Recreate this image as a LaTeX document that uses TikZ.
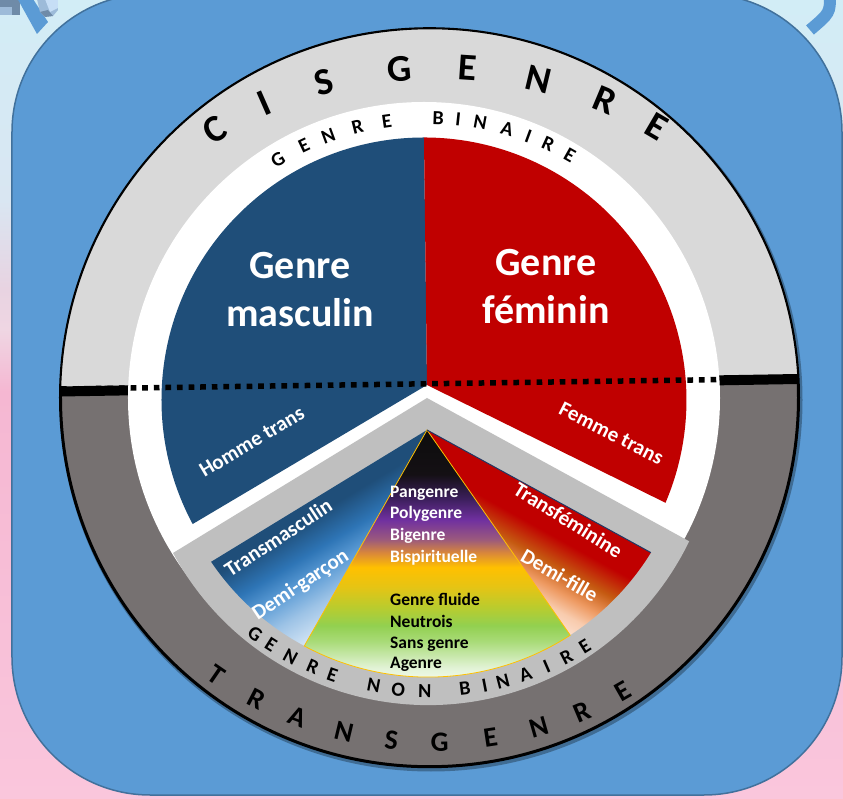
\documentclass[tikz,border=0pt]{standalone}
\usepackage{fontspec}
\setmainfont{Carlito}
\usetikzlibrary{calc}
\definecolor{bgblue}{HTML}{5B9BD5}
\definecolor{bgblueline}{HTML}{41719C}
\definecolor{ringdark}{HTML}{767171}
\definecolor{ringlight}{HTML}{D9D9D9}
\definecolor{nbgray}{HTML}{BFBFBF}
\definecolor{mascblue}{HTML}{1F4E79}
\definecolor{femred}{HTML}{C00000}
\definecolor{trioutline}{HTML}{FFC000}
\definecolor{edgedark}{HTML}{203864}
\definecolor{gemdark}{HTML}{6F8BA8}
\definecolor{gemmid}{HTML}{9DBBD9}
\definecolor{gemlight}{HTML}{C6DEF6}
% background
\definecolor{bgA}{HTML}{FAC6DC}
\definecolor{bgB}{HTML}{F5B7D2}
\definecolor{bgC}{HTML}{EFD6E3}
\definecolor{bgD}{HTML}{E8D3E1}
\definecolor{bgE}{HTML}{D9E6F2}
\definecolor{bgF}{HTML}{D2EDF6}
% rainbow
\definecolor{rbA}{HTML}{FFFFFF}
\definecolor{rbB}{HTML}{E2F3D6}
\definecolor{rbC}{HTML}{A9DB78}
\definecolor{rbD}{HTML}{92D050}
\definecolor{rbE}{HTML}{B9CC2E}
\definecolor{rbF}{HTML}{E6C414}
\definecolor{rbG}{HTML}{FFC000}
\definecolor{rbH}{HTML}{D9873A}
\definecolor{rbI}{HTML}{9C5A7C}
\definecolor{rbJ}{HTML}{7030A0}
\definecolor{rbK}{HTML}{3C1F5C}
\definecolor{rbL}{HTML}{141014}
\definecolor{rbM}{HTML}{0D0D0D}
% transmasculin
\definecolor{tmA}{HTML}{D6E6F6}
\definecolor{tmB}{HTML}{9DC3E6}
\definecolor{tmC}{HTML}{5B9BD5}
\definecolor{tmD}{HTML}{2E75B6}
\definecolor{tmE}{HTML}{1F4E79}
% transfeminine
\definecolor{tfA}{HTML}{FCE4D6}
\definecolor{tfB}{HTML}{F8CBAD}
\definecolor{tfC}{HTML}{EE9A62}
\definecolor{tfD}{HTML}{C55A11}
\definecolor{tfE}{HTML}{C00000}
\pgfdeclareverticalshading{bgshade}{100bp}{color(0bp)=(bgA); color(25bp)=(bgA); color(50.5bp)=(bgB); color(54.4bp)=(bgC); color(56.9bp)=(bgD); color(62.5bp)=(bgE); color(75bp)=(bgF); color(100bp)=(bgF)}
\pgfdeclareverticalshading{rainbowshade}{100bp}{color(0bp)=(rbA); color(25bp)=(rbA); color(29.45bp)=(rbB); color(34.5bp)=(rbC); color(37.55bp)=(rbD); color(41bp)=(rbE); color(45bp)=(rbF); color(48.7bp)=(rbG); color(51.5bp)=(rbH); color(54bp)=(rbI); color(57.8bp)=(rbJ); color(61.85bp)=(rbK); color(66.5bp)=(rbL); color(75bp)=(rbM); color(100bp)=(rbM)}
\pgfdeclareverticalshading{tmascshade}{100bp}{color(0bp)=(tmA); color(30bp)=(tmA); color(37bp)=(tmB); color(43bp)=(tmC); color(48bp)=(tmD); color(55bp)=(tmE); color(100bp)=(tmE)}
\pgfdeclareverticalshading{tfemshade}{100bp}{color(0bp)=(tfA); color(31bp)=(tfA); color(36bp)=(tfB); color(40bp)=(tfC); color(45bp)=(tfD); color(51bp)=(tfE); color(100bp)=(tfE)}
\tikzset{
  ringletter/.style={font=\fontsize{#1}{#1}\selectfont\bfseries, inner sep=0pt, text=black},
  pietext/.style={font=\fontsize{40}{48}\selectfont\bfseries, inner sep=0pt, text=white, anchor=base},
  sublabel/.style={font=\fontsize{21}{25}\selectfont\bfseries, inner sep=0pt, text=white},
  tritext/.style={font=\fontsize{17.5}{21}\selectfont\bfseries, inner sep=0pt, anchor=base west},
}
\begin{document}
\begin{tikzpicture}[x=1pt,y=1pt]
\useasboundingbox (-422,-401) rectangle (421,398);
\clip (-422,-401) rectangle (421,398);
% background
\shade[shading=bgshade] (-422,-401) rectangle (421,398);
% corner decorations
\fill[gemdark] (-423,383) rectangle (-402,399);
\fill[gemmid] (-423,383) rectangle (-410,391);
\fill[bgblue] (-406,402) -- (-391,402) -- (-374,376) -- (-385,364) -- cycle;
\fill[gemmid] (-385,399) -- (-364,399) -- (-364,388) -- (-369,382) -- (-377,381) -- (-382,386) -- cycle;
\fill[gemlight] (-377,399) -- (-364,399) -- (-364,390) -- (-372,386) -- cycle;
\fill[gemdark] (-382,386) -- (-377,381) -- (-369,382) -- (-374,388) -- cycle;
\draw[bgblue, line width=12] (408,403) .. controls (408,385) .. (388,368);
% main rounded panel
\draw[fill=bgblue, draw=bgblueline, line width=1.5, rounded corners=138] (-410,-397) rectangle (420,404);
% outer ring
\fill[black, opacity=0.3] (9,-2) circle[radius=371.5];
\draw[fill=ringdark, draw=black, line width=3] (7.5,0.3) circle[radius=369];
\draw[fill=ringlight, draw=black, line width=1.2] (376,19) arc[start angle=2.905, end angle=179.04, radius=369] -- cycle;
\draw[black, line width=10] (-361.4,6.5) -- (376,19);
% white band
\fill[white] (2,0) circle[radius=296];
% binary pie
\fill[mascblue] (5,13) -- (2,260.5) arc[start angle=90, end angle=208.2, radius=262.5] -- cycle;
\fill[femred] (5,13) -- (243.5,-104.8) arc[start angle=-23.06, end angle=90, radius=262.5] -- cycle;
% non binary sector
\fill[nbgray] (5,0) -- (-249,-155) arc[start angle=208.4, end angle=334.2, radius=290] -- cycle;
\shade[shading=tmascshade, shading angle=31] (5,-32) -- (-210.9,-163.8) arc[start angle=214.1, end angle=241.8, radius=262] -- cycle;
\shade[shading=tfemshade, shading angle=-29] (5,-32) -- (148.1,-237.1) arc[start angle=302.85, end angle=328.3, radius=262] -- cycle;
\shade[shading=rainbowshade] (5,-32) -- (-117.7,-248) arc[start angle=241.8, end angle=302.85, radius=262] -- cycle;
\draw[trioutline, line width=0.8] (5,-32) -- (-117.7,-248) arc[start angle=241.8, end angle=302.85, radius=262] -- cycle;
\draw[edgedark, line width=1] (5,-32) -- (228.9,-154.6);
% dotted divider
\draw[black, line width=5.5, dash pattern=on 5.7pt off 5.9pt] (-361,9) -- (376,19.5);
% ring letters
\foreach \l/\a [count=\i] in {C/121.2, I/113.7, S/105.3, G/95.1, E/86.1, N/76.5, R/67.3, E/59.6}
  \node[ringletter=38, rotate=\a-90] (cis\i) at ($(16,-101)+(\a:432)$) {\l};
\foreach \l/\a [count=\i] in {G/121.3, E/115.4, N/110.2, R/104.1, E/98.2, B/88, I/84, N/79.6, A/74.1, I/69.7, R/65.4, E/60.6}
  \node[ringletter=20, rotate=\a-90] (bin\i) at ($(6,-9)+(\a:289)$) {\l};
\foreach \l/\a [count=\i] in {T/235.6, R/242.65, A/249.4, N/256.6, S/263.8, G/271, E/278.6, N/285.97, R/292.9, E/299.7}
  \node[ringletter=28, rotate=\a+90] (trans\i) at ($(11,40)+(\a:384)$) {\l};
\foreach \l/\a [count=\i] in {G/233.9, E/237.6, N/242, R/246.8, E/250.9, N/259.2, O/264, N/269.2, B/277, I/280.9, N/284.5, A/289.1, I/293.5, R/297.8, E/301.9}
  \node[ringletter=20, rotate=\a+90] (nonbin\i) at ($(7,2)+(\a:295)$) {\l};
% pie labels
\node[pietext] (gm1) at (-122,119) {Genre};
\node[pietext] (gm2) at (-122,71) {masculin};
\node[pietext] (gf1) at (124,122) {Genre};
\node[pietext] (gf2) at (124,74) {féminin};
\node[sublabel, rotate=31] (homme) at (-170.2,-43.7) {Homme trans};
\node[sublabel, rotate=-27] (femme) at (189.4,-35.3) {Femme trans};
\node[sublabel, rotate=33.3] (tmasc) at (-143.9,-139.5) {Transmasculin};
\node[sublabel, rotate=33.8] (dgarcon) at (-121.1,-187) {Demi-garçon};
\node[sublabel, rotate=-32] (tfem) at (146.4,-122) {Transféminine};
\node[sublabel, rotate=-30] (dfille) at (137.7,-177) {Demi-fille};
% triangle texts
\node[tritext, text=white] (pan) at (-32,-99.2) {Pangenre};
\node[tritext, text=white] (poly) at (-32,-120.8) {Polygenre};
\node[tritext, text=white] (bi) at (-32,-142.5) {Bigenre};
\node[tritext, text=white] (bisp) at (-32,-164.2) {Bispirituelle};
\node[tritext, text=black] (fluide) at (-32,-207.5) {Genre fluide};
\node[tritext, text=black] (neutro) at (-32,-229.2) {Neutrois};
\node[tritext, text=black] (sans) at (-32,-250.2) {Sans genre};
\node[tritext, text=black] (agenre) at (-32,-270.8) {Agenre};
\end{tikzpicture}
\end{document}
